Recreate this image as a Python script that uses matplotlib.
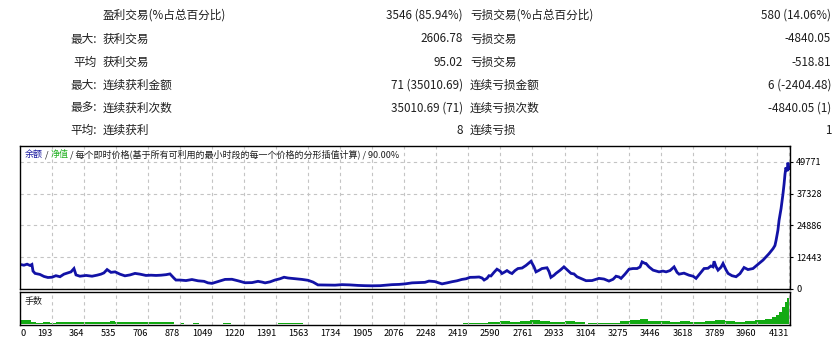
import numpy as np
import matplotlib
matplotlib.use("Agg")
import matplotlib.pyplot as plt

plt.rcParams['font.family'] = ['Noto Sans CJK SC', 'DejaVu Sans']

# summary table (rows of the report)
row_prefix = ["", "最大:", "平均", "最大:", "最多:", "平均:"]
win_labels = ["盈利交易(%占总百分比)", "获利交易", "获利交易", "连续获利金额", "连续获利次数", "连续获利"]
win_values = ["3546 (85.94%)", "2606.78", "95.02", "71 (35010.69)", "35010.69 (71)", "8"]
loss_labels = ["亏损交易(%占总百分比)", "亏损交易", "亏损交易", "连续亏损金额", "连续亏损次数", "连续亏损"]
loss_values = ["580 (14.06%)", "-4840.05", "-518.81", "6 (-2404.48)", "-4840.05 (1)", "1"]

# balance curve (trade number, balance)
trades = [0, 21, 38, 54, 64, 70, 81, 107, 129, 150, 172, 193, 215, 236, 258, 274, 290, 301,
          322, 355, 387, 414, 435, 451, 468, 489, 511, 537, 564, 591, 618, 645, 677, 704, 731,
          758, 785, 806, 828, 838, 860, 892, 924, 957, 989, 1010, 1032, 1064, 1102, 1139, 1172,
          1209, 1247, 1279, 1301, 1317, 1344, 1370, 1397, 1419, 1440, 1467, 1494, 1515, 1548,
          1575, 1601, 1639, 1693, 1730, 1773, 1816, 1854, 1892, 1935, 1967, 1999, 2037, 2069,
          2107, 2150, 2176, 2198, 2229, 2268, 2295, 2322, 2348, 2375, 2397, 2418, 2445, 2467,
          2483, 2494, 2510, 2520, 2531, 2547, 2563, 2580, 2590, 2606, 2617, 2633, 2644, 2660,
          2676, 2698, 2719, 2746, 2762, 2773, 2789, 2805, 2832, 2843, 2853, 2870, 2880, 2902,
          2923, 2939, 2961, 2977, 2993, 3015, 3042, 3074, 3111, 3138, 3165, 3187, 3203, 3219,
          3230, 3251, 3273, 3294, 3316, 3332, 3343, 3359, 3364, 3380, 3402, 3434, 3455, 3472,
          3493, 3515, 3531, 3542, 3568, 3595, 3617, 3633, 3654, 3676, 3697, 3713, 3724, 3730,
          3740, 3751, 3767, 3778, 3794, 3805, 3826, 3848, 3869, 3891, 3912, 3939, 3955, 3971,
          3993, 4009, 4025, 4047, 4057, 4063, 4073, 4079, 4090, 4100, 4106, 4111, 4116, 4122,
          4127, 4132]
balance = [9600, 9300, 9700, 9200, 9600, 7000, 6100, 5700, 4900, 4500, 4600, 5200, 4800, 5800,
           6300, 6700, 8000, 5500, 5000, 5300, 5000, 5400, 5800, 6300, 7600, 6500, 6700, 5800,
           5150, 5500, 6100, 5800, 5300, 5400, 5300, 5400, 5600, 5900, 4200, 3500, 3500, 3300,
           3700, 3200, 3000, 2400, 2200, 2900, 3750, 3800, 3200, 2450, 2500, 3000, 2700, 2400,
           2800, 3500, 4000, 4600, 4300, 4100, 3900, 3750, 3400, 2700, 1600, 1550, 1500, 1700,
           1600, 1400, 1300, 1250, 1300, 1500, 1700, 1800, 2000, 2400, 2500, 2600, 3100, 2900,
           2000, 2400, 2850, 3200, 3750, 4000, 4550, 4600, 4700, 4300, 3500, 4200, 5200, 5100,
           6500, 7750, 7000, 6050, 6700, 7200, 6400, 6050, 7200, 8000, 8200, 9200, 10850, 8700,
           6700, 7300, 8000, 8300, 6800, 4550, 5400, 6100, 7300, 8650, 7600, 6100, 5900, 4800,
           4100, 3250, 3300, 4150, 3900, 3100, 3800, 5000, 4700, 4150, 5800, 7750, 8000, 8000,
           8600, 10600, 10000, 9970, 8650, 7370, 6700, 7000, 6700, 7200, 8650, 6500, 5800, 6200,
           5400, 5000, 4150, 6000, 8000, 8100, 9000, 8650, 10850, 8800, 7370, 8500, 9970, 7500,
           6100, 5200, 4800, 6000, 8400, 7600, 8000, 9000, 9970, 11300, 12550, 13800, 15800,
           17000, 19000, 23000, 26800, 31500, 37100, 41000, 44900, 47500, 46000, 49400, 47000]

# lot sizes (relative height of the lower panel)
lot_trades = [0, 59, 86, 124, 161, 193, 226, 269, 312, 365, 419, 484, 511, 564, 645, 698, 752,
              806, 828, 860, 881, 930, 962, 1091, 1134, 1386, 1521, 2381, 2445, 2515, 2580, 2633,
              2687, 2741, 2794, 2848, 2880, 2929, 2983, 3036, 3052, 3144, 3197, 3224, 3278, 3332,
              3375, 3439, 3493, 3547, 3601, 3627, 3681, 3735, 3789, 3842, 3896, 3950, 4004, 4041,
              4063, 4079, 4095, 4111, 4122, 4132]
lots = [0.15, 0.08, 0.06, 0.07, 0.06, 0.08, 0.07, 0.09, 0.08, 0.07, 0.09, 0.10, 0.09, 0.08,
        0.08, 0.08, 0.07, 0.07, 0.0, 0.04, 0.0, 0.04, 0.0, 0.05, 0.0, 0.05, 0.0, 0.04, 0.06,
        0.09, 0.10, 0.09, 0.11, 0.15, 0.10, 0.08, 0.09, 0.11, 0.08, 0.0, 0.04, 0.04, 0.06,
        0.11, 0.13, 0.16, 0.12, 0.10, 0.09, 0.10, 0.07, 0.08, 0.10, 0.13, 0.10, 0.08, 0.11,
        0.13, 0.18, 0.23, 0.30, 0.40, 0.55, 0.72, 0.85, 0.92]

x_labels = ["0", "193", "364", "535", "706", "878", "1049", "1220", "1391", "1563", "1734",
            "1905", "2076", "2248", "2419", "2590", "2761", "2933", "3104", "3275", "3446",
            "3618", "3789", "3960", "4131"]
y_ticks = [0, 12443, 24886, 37328, 49771]

W, H = 838, 341
fig = plt.figure(figsize=(W / 100, H / 100), dpi=100)
fig.patch.set_facecolor("white")

def fx(px):
    return px / W

def fy(py):
    return 1 - py / H

txt_col = "#1e1e1e"
row_y = [15, 39, 62, 85, 108, 130]
for i in range(6):
    y = fy(row_y[i])
    fig.text(fx(97), y, row_prefix[i], ha="right", va="center", fontsize=8.4, color=txt_col)
    fig.text(fx(103), y, win_labels[i], ha="left", va="center", fontsize=8.4, color=txt_col)
    fig.text(fx(463), y, win_values[i], ha="right", va="center", fontsize=8.4, color=txt_col)
    fig.text(fx(470), y, loss_labels[i], ha="left", va="center", fontsize=8.4, color=txt_col)
    fig.text(fx(831), y, loss_values[i], ha="right", va="center", fontsize=8.4, color=txt_col)

step = 4131 / 24
tick_pos = np.arange(len(x_labels)) * step
x_max = (790 - 20) / 32.03 * step

grid_kw = dict(color="#c4c4c4", linestyle=(0, (3, 3)), linewidth=0.8)

ax = fig.add_axes([fx(20), fy(289), fx(770), (289 - 146) / H])
ax.plot(trades, balance, color="#1212a6", linewidth=2.0, solid_joinstyle="miter")
ax.set_xlim(0, x_max)
ax.set_ylim(0, 55900)
ax.set_xticks(tick_pos[1:])
ax.set_xticklabels([])
ax.tick_params(axis="x", length=0)
ax.yaxis.tick_right()
ax.set_yticks(y_ticks)
ax.set_yticklabels([str(v) for v in y_ticks])
ax.tick_params(axis="y", length=2.5, width=0.8, pad=2, labelsize=6.6, colors="black")
ax.grid(True, **grid_kw)
for s in ax.spines.values():
    s.set_linewidth(1.0)
    s.set_color("black")

# legend line inside the chart
t1 = ax.text(0.006, 0.94, "余额", transform=ax.transAxes, fontsize=6.5, color="#1a1aa0",
             ha="left", va="center")
t2 = ax.annotate(" / ", xy=(1, 0), xycoords=t1, va="bottom", fontsize=6.5, color=txt_col)
t3 = ax.annotate("净值", xy=(1, 0), xycoords=t2, va="bottom", fontsize=6.5, color="#20b020")
ax.annotate(" / 每个即时价格(基于所有可利用的最小时段的每一个价格的分形插值计算) / 90.00%",
            xy=(1, 0), xycoords=t3, va="bottom", fontsize=6.5, color=txt_col)

ax2 = fig.add_axes([fx(20), fy(325), fx(770), (325 - 292) / H])
ax2.fill_between(lot_trades, lots, step="post", color="#12aa12", linewidth=0)
ax2.set_xlim(0, x_max)
ax2.set_ylim(-0.02, 1.04)
ax2.set_yticks([])
ax2.set_xticks(tick_pos)
ax2.set_xticklabels(x_labels)
ax2.tick_params(axis="x", length=0, pad=3, labelsize=6.6, colors="black")
for lbl in ax2.get_xticklabels():
    lbl.set_ha("right")
ax2.get_xticklabels()[0].set_ha("left")
ax2.grid(True, axis="x", **grid_kw)
for s in ax2.spines.values():
    s.set_linewidth(1.0)
    s.set_color("black")
ax2.text(0.006, 0.72, "手数", transform=ax2.transAxes, fontsize=6.5, color=txt_col,
         ha="left", va="center")

fig.savefig("out.png", dpi=100, facecolor="white")
